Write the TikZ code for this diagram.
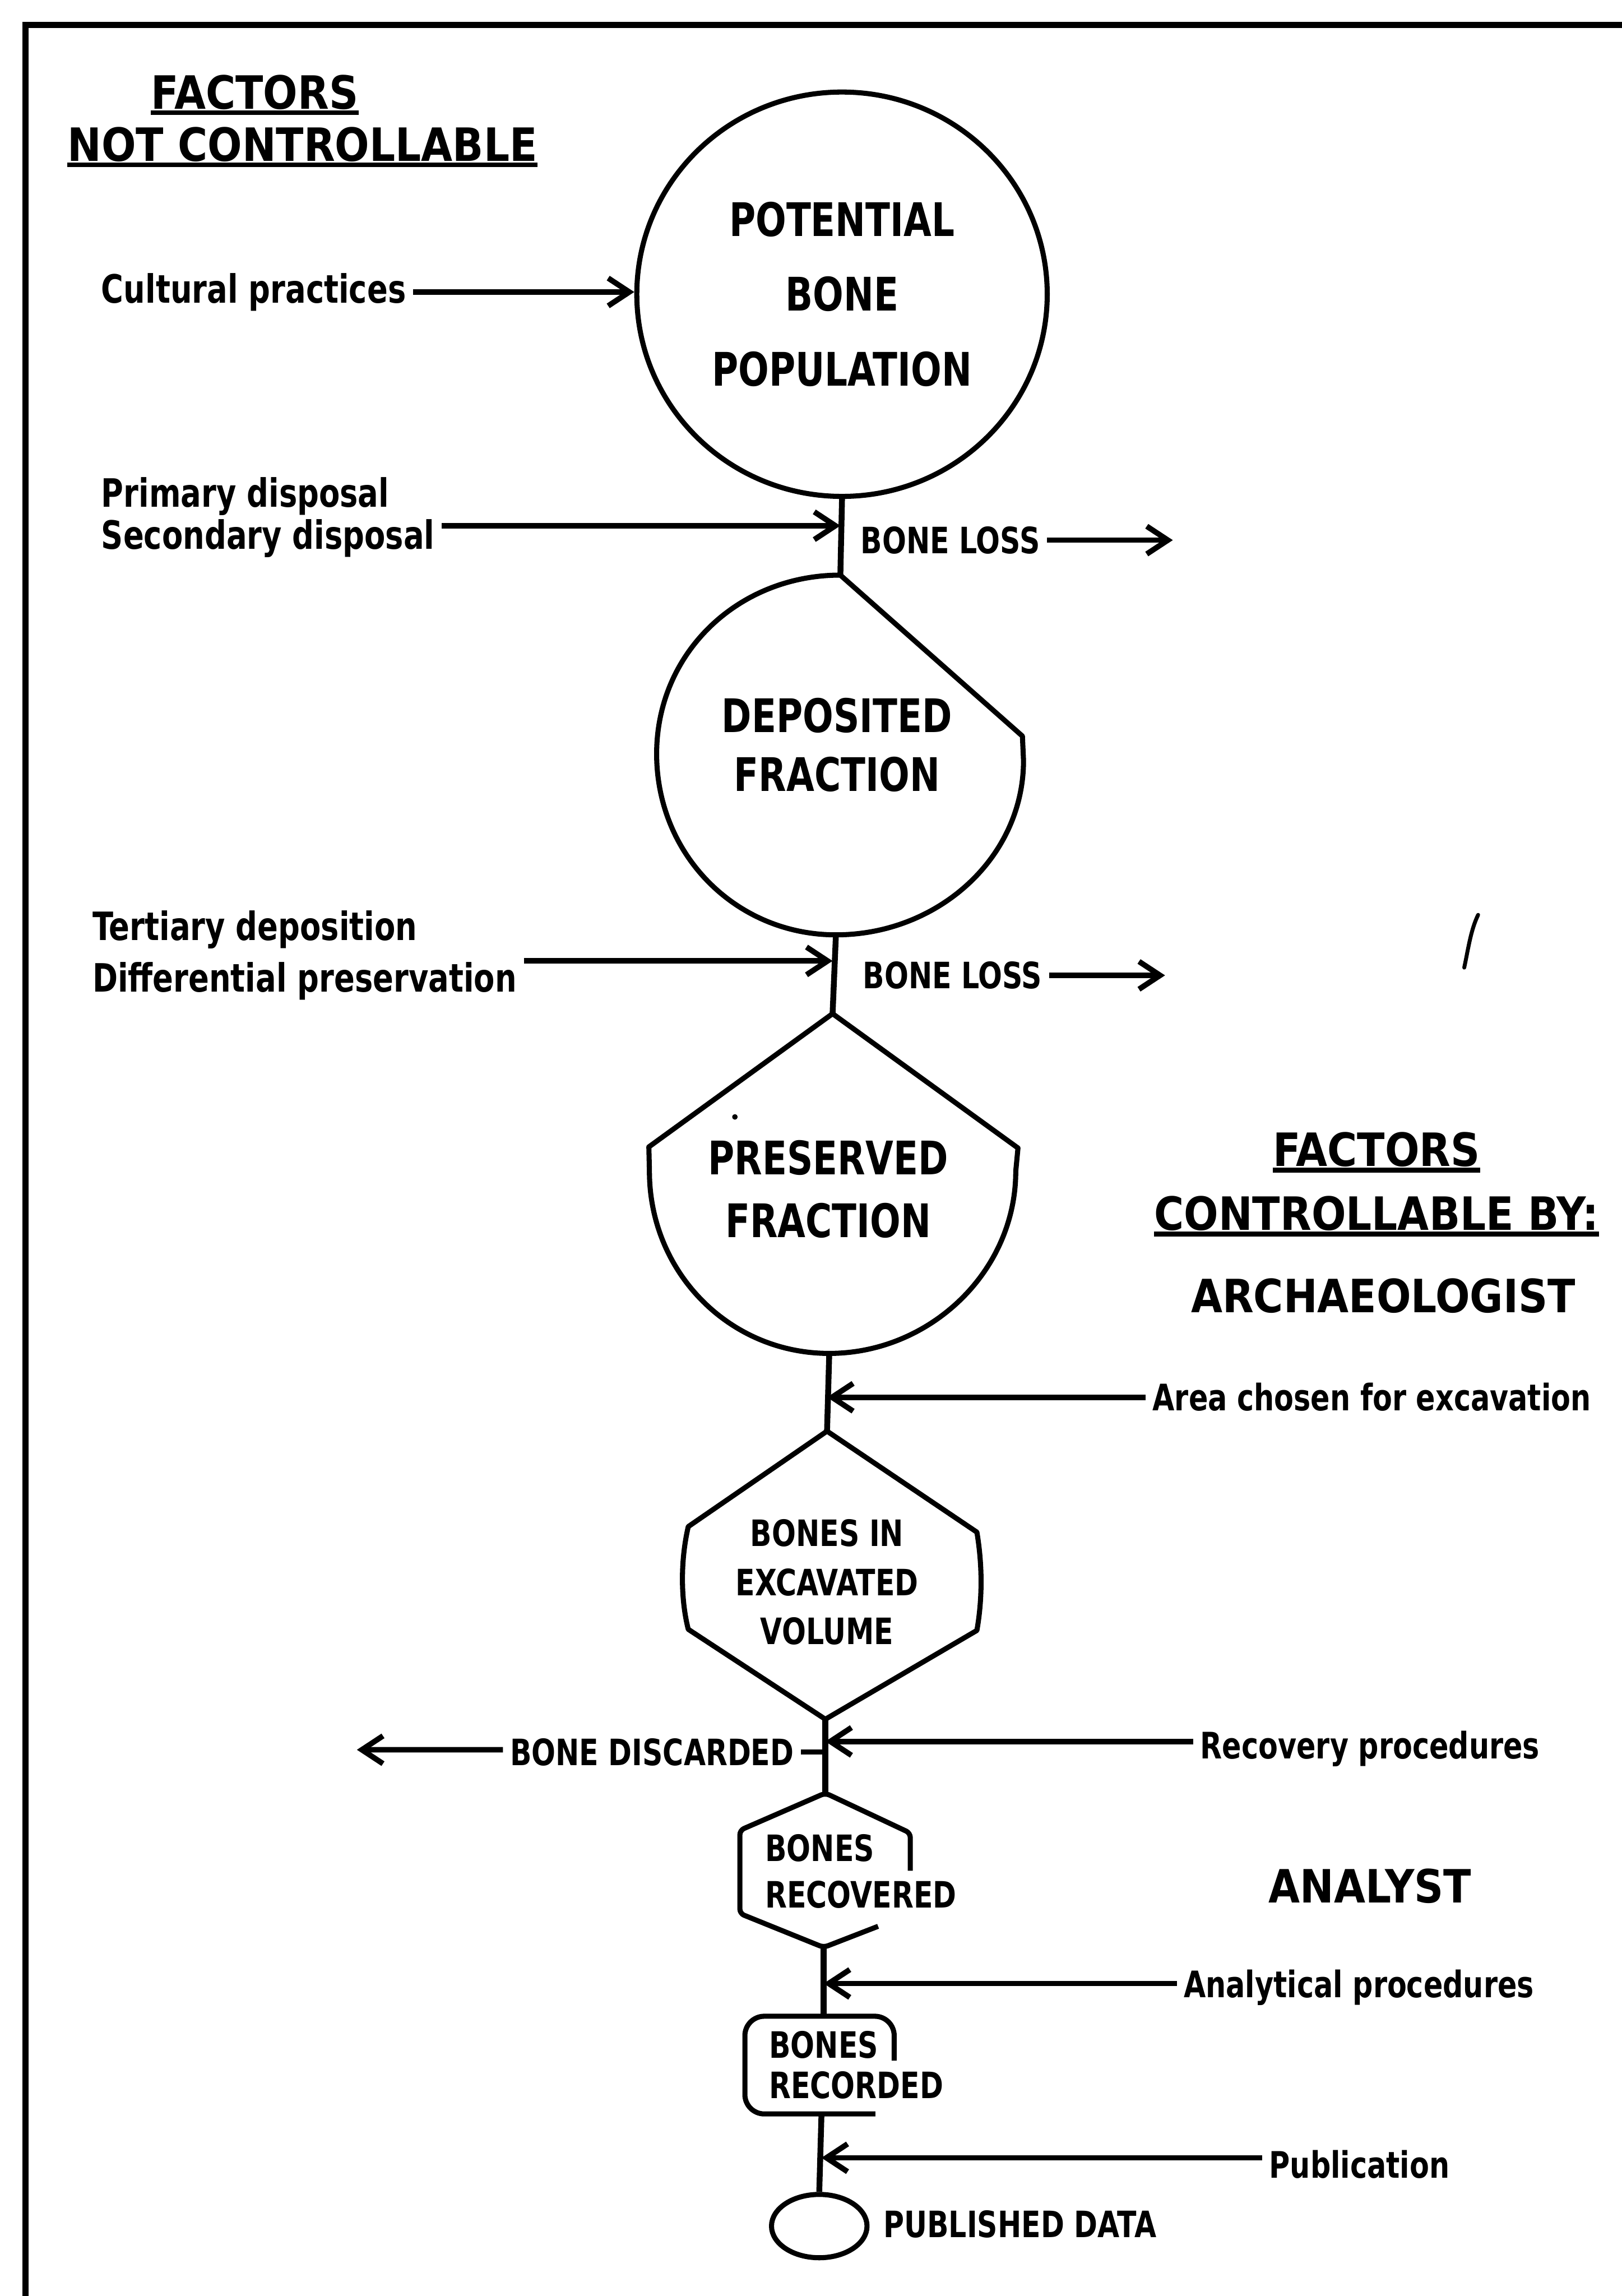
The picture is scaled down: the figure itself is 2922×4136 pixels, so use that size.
\documentclass[tikz,border=0pt]{standalone}
\usepackage{fontspec}
\setmainfont{DejaVu Sans}
\newfontfamily\fa{DejaVu Sans}[FakeStretch=0.78]
\newfontfamily\fb{DejaVu Sans}[FakeStretch=0.885]
\usetikzlibrary{arrows.meta,shapes.geometric}
\begin{document}
\begin{tikzpicture}[x=0.01cm,y=-0.01cm,
  frame/.style={line width=3pt},
  shp/.style={line width=2.6pt,line join=round},
  stem/.style={line width=3pt},
  arr/.style={line width=2.8pt,-{Straight Barb[length=0.38cm,width=0.5cm]}},
  dashline/.style={line width=2.8pt},
  ul/.style={line width=2.4pt},
  head/.style={font=\fb\bfseries\fontsize{23.5}{28}\selectfont,inner sep=0pt},
  lbl/.style={font=\fa\bfseries\fontsize{20}{21.6}\selectfont,inner sep=0.12cm,align=left},
  rlbl/.style={font=\fa\bfseries\fontsize{18.7}{22}\selectfont,inner sep=0.12cm},
  caps/.style={font=\fa\bfseries\fontsize{18.6}{22}\selectfont,inner sep=0.12cm},
  intxt/.style={inner sep=0pt,align=center}
]
\useasboundingbox (0,0) rectangle (2922,4136);
% frame
\draw[frame] (46,4136) -- (46,45) -- (2922,45);

% headings
\node[head,anchor=base] (h1) at (459,196) {FACTORS};
\node[head,anchor=base] (h2) at (545,290) {NOT CONTROLLABLE};
\node[head,anchor=base] (h3) at (2480,2101) {FACTORS};
\node[head,anchor=base] (h4) at (2480,2216) {CONTROLLABLE BY:};
\foreach \n in {h1,h2,h3,h4}
  \draw[ul] ([yshift=-0.07cm]\n.base west) -- ([yshift=-0.07cm]\n.base east);
\node[head,anchor=base] (arch) at (2492,2364) {ARCHAEOLOGIST};
\node[head,anchor=base] (anal) at (2468,3428) {ANALYST};

% potential bone population
\node[draw,shp,ellipse,minimum width=7.39cm,minimum height=7.28cm,inner sep=0pt,align=center,
  font=\fa\bfseries\fontsize{23.7}{38.4}\selectfont] (pot) at (1517,530) {POTENTIAL\\BONE\\POPULATION};
\node[lbl,anchor=west] (cult) at (170,526) {Cultural practices};
\draw[arr] (cult.east) -- (cult.east -| pot.west);

% disposal
\coordinate (depT) at (1514,1036);
\node[lbl,anchor=west] (disp) at (170,932) {Primary disposal\\Secondary disposal};
\draw[arr] ([yshift=-0.15cm]disp.east) -- ([yshift=-0.15cm]disp.east -| depT);
\node[caps,anchor=west] (bl1) at (1538,973) {BONE LOSS};
\coordinate (bl1e) at (2113,973);
\draw[arr] (bl1.east) -- (bl1e);
\draw[stem] (pot.south) -- (depT);

% deposited fraction
\coordinate (depB) at (1506,1684);
\draw[shp] (depT) -- (1842,1326) -- (1844,1370) .. controls (1844,1545) and (1690,1684) .. (depB)
  .. controls (1326,1684) and (1183,1540) .. (1183,1358) .. controls (1183,1176) and (1330,1036) .. cycle;
\node[intxt,font=\fa\bfseries\fontsize{23.7}{30}\selectfont] (deptxt) at (1508,1342) {DEPOSITED\\FRACTION};

% tertiary
\coordinate (presT) at (1500,1826);
\node[lbl,anchor=west,font=\fa\bfseries\fontsize{20}{26.5}\selectfont] (tert) at (154,1721) {Tertiary deposition\\Differential preservation};
\draw[arr] ([yshift=-0.1cm]tert.east) -- ([yshift=-0.1cm]tert.east -| presT);
\node[caps,anchor=west] (bl2) at (1542,1757) {BONE LOSS};
\coordinate (bl2e) at (2099,1757);
\draw[arr] (bl2.east) -- (bl2e);
\draw[stem] (depB) -- (presT);

% preserved fraction
\coordinate (presB) at (1494,2438);
\draw[shp] (presT) -- (1834,2068) -- (1830,2110) .. controls (1830,2291) and (1675,2438) .. (presB)
  .. controls (1313,2438) and (1170,2291) .. (1170,2110) -- (1169,2066) -- cycle;
\node[intxt,font=\fa\bfseries\fontsize{23.7}{32}\selectfont] (prestxt) at (1492,2142) {PRESERVED\\FRACTION};

% area chosen
\coordinate (excT) at (1490,2578);
\draw[stem] (presB) -- (excT);
\node[rlbl,anchor=west] (area) at (2064,2517) {Area chosen for excavation};
\draw[arr] (area.west) -- (area.west -| excT);

% excavated volume
\coordinate (excB) at (1487,3097);
\draw[shp] (excT) -- (1760,2760) .. controls (1770,2820) and (1770,2880) .. (1760,2937) -- (excB)
  -- (1240,2935) .. controls (1226,2880) and (1226,2810) .. (1240,2750) -- cycle;
\node[intxt,font=\fa\bfseries\fontsize{18.6}{25}\selectfont] (exctxt) at (1490,2850) {BONES IN\\EXCAVATED\\VOLUME};

% recovery
\coordinate (recvT) at (1487,3230);
\draw[stem] (excB) -- (recvT);
\node[rlbl,anchor=west] (recp) at (2150,3150) {Recovery procedures};
\draw[arr] ([yshift=0.13cm]recp.west) -- ([yshift=0.13cm]recp.west -| excB);
\node[caps,anchor=east] (bd) at (1443,3156) {BONE DISCARDED};
\coordinate (bdL) at (643,3152);
\draw[arr] ([yshift=0.04cm]bd.west) -- (bdL);
\draw[dashline] (bd.east) -- (bd.east -| excB);

% bones recovered
\coordinate (recvB) at (1484,3508);
\draw[shp,rounded corners=0.08cm] (1640,3370) -- (1640,3302) -- (recvT) -- (1333,3297) -- (1333,3447) -- (recvB) -- (1582,3470);
\node[intxt,anchor=west,align=left,font=\fa\bfseries\fontsize{18.6}{24}\selectfont] (recvtxt) at (1378,3371) {BONES\\RECOVERED};

% analytical
\coordinate (recdT) at (1484,3632);
\draw[stem] (recvB) -- (recdT);
\node[rlbl,anchor=west] (anap) at (2120,3580) {Analytical procedures};
\draw[arr] ([yshift=0.07cm]anap.west) -- ([yshift=0.07cm]anap.west -| recvB);

% bones recorded
\coordinate (recdB) at (1480,3808);
\draw[shp,rounded corners=0.35cm] (1611,3712) -- (1611,3632) -- (1342,3632) -- (1342,3808) -- (1577,3808);
\node[intxt,anchor=west,align=left,font=\fa\bfseries\fontsize{18.6}{20.5}\selectfont] (recdtxt) at (1385,3720) {BONES\\RECORDED};

% publication
\node[draw,shp,ellipse,minimum width=1.72cm,minimum height=1.14cm,inner sep=0pt] (pub) at (1476,4010) {};
\draw[stem] (recdB) -- (pub.north);
\node[rlbl,anchor=west] (publ) at (2274,3899) {Publication};
\draw[arr] ([yshift=0.12cm]publ.west) -- ([yshift=0.12cm]publ.west -| recdB);
\node[caps,anchor=west] (pd) at (1579,4007) {PUBLISHED DATA};

% stray marks of the original
\draw[line width=2pt,line cap=round] (2638,1743) .. controls (2646,1705) and (2650,1675) .. (2663,1648);
\fill (1324,2012) circle[radius=0.05cm];
\end{tikzpicture}
\end{document}
